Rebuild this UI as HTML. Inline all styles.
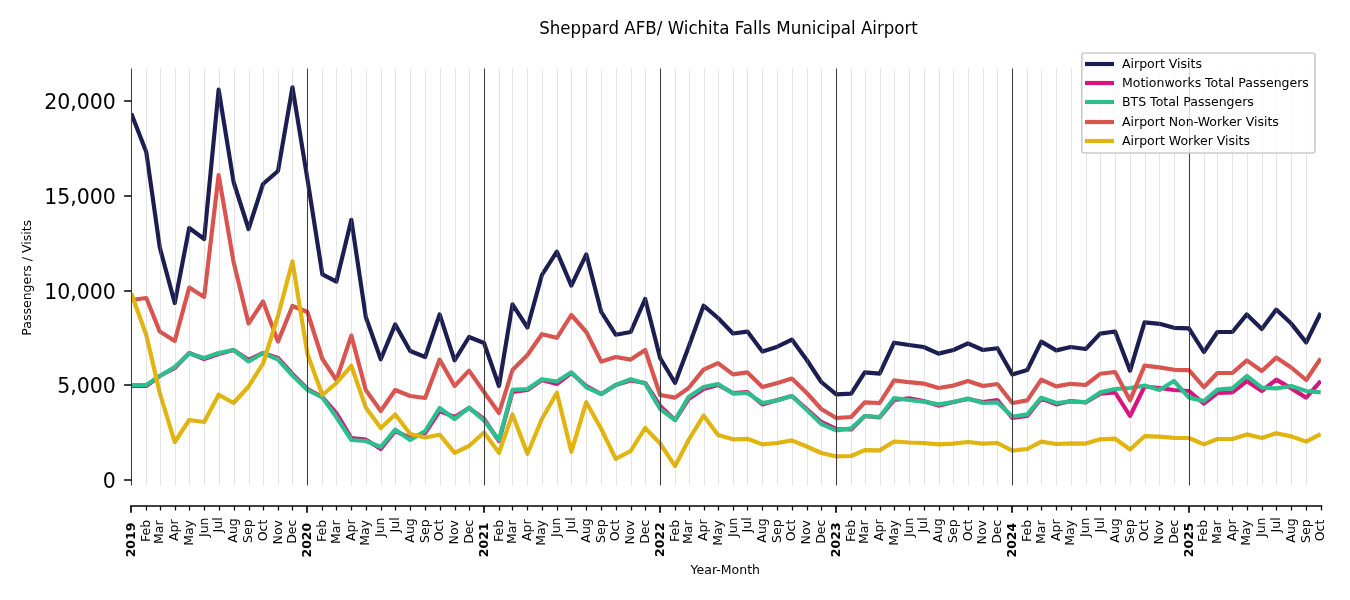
<!DOCTYPE html>
<html><head><meta charset="utf-8"><title>Sheppard AFB/ Wichita Falls Municipal Airport</title>
<style>html,body{margin:0;padding:0;background:#fff;}body{width:1350px;height:600px;overflow:hidden;}svg{display:block;will-change:transform;font-family:"DejaVu Sans","Liberation Sans",sans-serif;fill:#000;}svg text{fill:#000;}</style>
</head><body>
<svg width="1350" height="600" viewBox="0 0 1350 600">
<rect width="1350" height="600" fill="#fff"/>
<defs><clipPath id="ax"><rect x="131" y="68" width="1190" height="417"/></clipPath></defs>
<g clip-path="url(#ax)" fill="none" stroke-width="4.17" stroke-linejoin="round" stroke-linecap="butt">
<polyline points="131.31,113.5 146.27,152 159.78,247.5 174.73,303 189.21,228 204.17,239 218.64,89.6 233.6,182 248.56,229 263.03,184 277.99,171 292.46,87.4 307.42,179 322.38,274.4 336.37,281.6 351.33,219.8 365.8,317 380.76,359.3 395.23,324.4 410.19,351 425.15,357 439.62,314.4 454.58,360.3 469.05,337 484.01,343 498.97,386 512.48,304.4 527.44,327.5 541.91,275 556.87,251.6 571.34,285.6 586.3,254.4 601.26,312 615.73,334.7 630.69,332 645.16,299 660.12,358 675.08,383 688.59,347 703.54,305.6 718.02,318 732.98,333.5 747.45,331.6 762.41,351.5 777.37,346.7 791.84,339.6 806.8,360 821.27,382 836.23,394.4 851.19,393.6 864.7,372.4 879.65,373.6 894.13,342.7 909.09,345 923.56,347 938.52,353.6 953.47,350 967.95,343.3 982.91,350 997.38,348.2 1012.34,374.5 1027.3,370 1041.29,341.6 1056.25,350.4 1070.72,347 1085.68,349 1100.15,333.6 1115.11,331.5 1130.07,370.7 1144.54,322.4 1159.5,323.8 1173.97,327.8 1188.93,328.4 1203.89,352 1217.4,332 1232.35,332 1246.83,314.4 1261.79,329 1276.26,309.6 1291.22,323.6 1306.18,342.4 1320.65,313" stroke="#1c1e52"/>
<polyline points="131.31,386 146.27,386 159.78,376 174.73,368 189.21,353 204.17,359 218.64,354 233.6,350 248.56,360 263.03,353 277.99,358 292.46,374 307.42,389 322.38,397 336.37,413 351.33,438 365.8,439.5 380.76,449 395.23,431 410.19,438 425.15,433 439.62,411 454.58,417 469.05,408 484.01,419 498.97,441 512.48,392 527.44,390 541.91,380 556.87,384 571.34,373 586.3,386 601.26,394 615.73,385 630.69,380.5 645.16,383 660.12,406 675.08,420 688.59,399 703.54,389 718.02,385 732.98,393 747.45,392 762.41,404.5 777.37,400 791.84,396 806.8,409 821.27,422 836.23,429 851.19,429.5 864.7,416 879.65,417.5 894.13,400 909.09,398.4 923.56,401 938.52,405.6 953.47,402 967.95,399 982.91,402 997.38,400 1012.34,418 1027.3,416 1041.29,398.5 1056.25,404.4 1070.72,401 1085.68,402.5 1100.15,393.6 1115.11,392.5 1130.07,416 1144.54,386.5 1159.5,388 1173.97,390 1188.93,391 1203.89,403.6 1217.4,393 1232.35,392.4 1246.83,381 1261.79,391 1276.26,379.6 1291.22,388.4 1306.18,397.6 1320.65,381" stroke="#d6137e"/>
<polyline points="131.31,385 146.27,385 159.78,376 174.73,367 189.21,353.6 204.17,358 218.64,353 233.6,350 248.56,361.5 263.03,353 277.99,359.5 292.46,375.5 307.42,390 322.38,397.5 336.37,417 351.33,440 365.8,441 380.76,447 395.23,429.6 410.19,440 425.15,431 439.62,408 454.58,419 469.05,407.6 484.01,420.5 498.97,440 512.48,389.8 527.44,389 541.91,379.2 556.87,381.5 571.34,372.3 586.3,387.3 601.26,394.2 615.73,385 630.69,379.2 645.16,383.5 660.12,409 675.08,420 688.59,397 703.54,387 718.02,384 732.98,393.6 747.45,393 762.41,403 777.37,400.4 791.84,396 806.8,410 821.27,424 836.23,430.4 851.19,428.4 864.7,416 879.65,417 894.13,398 909.09,400 923.56,401.6 938.52,404.4 953.47,402 967.95,398.4 982.91,403 997.38,402.4 1012.34,416.6 1027.3,414.4 1041.29,397.6 1056.25,403 1070.72,401.7 1085.68,402.2 1100.15,392.4 1115.11,389 1130.07,388 1144.54,385.6 1159.5,390 1173.97,381 1188.93,397.6 1203.89,401 1217.4,389.6 1232.35,388.4 1246.83,376 1261.79,387.6 1276.26,388.4 1291.22,386 1306.18,391 1320.65,392.4" stroke="#2cbf8e"/>
<polyline points="131.31,300 146.27,298 159.78,331.6 174.73,341 189.21,287.6 204.17,297 218.64,175 233.6,262 248.56,323.5 263.03,301.5 277.99,341.6 292.46,306 307.42,312 322.38,359 336.37,380 351.33,335.6 365.8,390 380.76,411 395.23,390 410.19,396 425.15,398 439.62,359.6 454.58,386 469.05,370.6 484.01,392 498.97,413 512.48,370 527.44,355 541.91,334.2 556.87,337.8 571.34,315 586.3,332 601.26,361.6 615.73,357 630.69,359.6 645.16,350 660.12,395 675.08,397.6 688.59,388 703.54,369.6 718.02,363.2 732.98,374.4 747.45,372.4 762.41,387 777.37,383 791.84,378.6 806.8,393 821.27,409 836.23,418 851.19,417 864.7,402.4 879.65,403 894.13,380.4 909.09,382.2 923.56,383.6 938.52,388 953.47,385.6 967.95,381 982.91,386 997.38,384 1012.34,403 1027.3,400.4 1041.29,379.6 1056.25,386.4 1070.72,383.8 1085.68,385 1100.15,373.8 1115.11,372 1130.07,400.4 1144.54,365.6 1159.5,367.4 1173.97,369.8 1188.93,370.2 1203.89,387.2 1217.4,373 1232.35,373 1246.83,360.4 1261.79,371 1276.26,357.6 1291.22,367.5 1306.18,380 1320.65,358.5" stroke="#d9534f"/>
<polyline points="131.31,293.5 146.27,335 159.78,393 174.73,442 189.21,420 204.17,422 218.64,394.7 233.6,403 248.56,386.5 263.03,363.5 277.99,316 292.46,261.4 307.42,354 322.38,395 336.37,383 351.33,365.8 365.8,407.5 380.76,428 395.23,414.4 410.19,434 425.15,437.5 439.62,434.7 454.58,452.8 469.05,446 484.01,432.5 498.97,452.8 512.48,414.4 527.44,453.8 541.91,419 556.87,392.7 571.34,451.8 586.3,402.2 601.26,429 615.73,458.8 630.69,451 645.16,428 660.12,443.5 675.08,466.1 688.59,440 703.54,415.6 718.02,435 732.98,439.3 747.45,438.8 762.41,444.4 777.37,443 791.84,440.4 806.8,446.5 821.27,453 836.23,456.4 851.19,456 864.7,450.2 879.65,450.4 894.13,441.5 909.09,442.5 923.56,443 938.52,444.4 953.47,443.6 967.95,442 982.91,443.6 997.38,443 1012.34,450.6 1027.3,449 1041.29,441.6 1056.25,444 1070.72,443.3 1085.68,443.6 1100.15,439.3 1115.11,438.7 1130.07,449.5 1144.54,436.2 1159.5,436.7 1173.97,437.8 1188.93,438 1203.89,444.4 1217.4,439 1232.35,439 1246.83,434.4 1261.79,438 1276.26,433.2 1291.22,436.4 1306.18,441.6 1320.65,434" stroke="#e1b40e"/>
</g>
<path d="M146.5 68.5V485.5M160.5 68.5V485.5M175.5 68.5V485.5M189.5 68.5V485.5M204.5 68.5V485.5M219.5 68.5V485.5M234.5 68.5V485.5M249.5 68.5V485.5M263.5 68.5V485.5M278.5 68.5V485.5M292.5 68.5V485.5M322.5 68.5V485.5M336.5 68.5V485.5M351.5 68.5V485.5M366.5 68.5V485.5M381.5 68.5V485.5M395.5 68.5V485.5M410.5 68.5V485.5M425.5 68.5V485.5M440.5 68.5V485.5M455.5 68.5V485.5M469.5 68.5V485.5M499.5 68.5V485.5M512.5 68.5V485.5M527.5 68.5V485.5M542.5 68.5V485.5M557.5 68.5V485.5M571.5 68.5V485.5M586.5 68.5V485.5M601.5 68.5V485.5M616.5 68.5V485.5M631.5 68.5V485.5M645.5 68.5V485.5M675.5 68.5V485.5M689.5 68.5V485.5M704.5 68.5V485.5M718.5 68.5V485.5M733.5 68.5V485.5M747.5 68.5V485.5M762.5 68.5V485.5M777.5 68.5V485.5M792.5 68.5V485.5M807.5 68.5V485.5M821.5 68.5V485.5M851.5 68.5V485.5M865.5 68.5V485.5M880.5 68.5V485.5M894.5 68.5V485.5M909.5 68.5V485.5M924.5 68.5V485.5M939.5 68.5V485.5M953.5 68.5V485.5M968.5 68.5V485.5M983.5 68.5V485.5M997.5 68.5V485.5M1027.5 68.5V485.5M1041.5 68.5V485.5M1056.5 68.5V485.5M1071.5 68.5V485.5M1086.5 68.5V485.5M1100.5 68.5V485.5M1115.5 68.5V485.5M1130.5 68.5V485.5M1145.5 68.5V485.5M1159.5 68.5V485.5M1174.5 68.5V485.5M1204.5 68.5V485.5M1217.5 68.5V485.5M1232.5 68.5V485.5M1247.5 68.5V485.5M1262.5 68.5V485.5M1276.5 68.5V485.5M1291.5 68.5V485.5M1306.5 68.5V485.5" stroke="#9a9a9a" stroke-opacity="0.27" stroke-width="1" fill="none"/>
<path d="M131.5 68.5V485.5M307.5 68.5V485.5M484.5 68.5V485.5M660.5 68.5V485.5M836.5 68.5V485.5M1012.5 68.5V485.5M1189.5 68.5V485.5" stroke="#3c3c3c" stroke-width="1.05" fill="none"/>
<path d="M124.1 480H131.4M124.1 385H131.4M124.1 291H131.4M124.1 196H131.4M124.1 101H131.4" stroke="#000" stroke-width="1.67" fill="none"/>
<text x="115.9" y="488.5" text-anchor="end" font-size="20.83px" transform="translate(115.9 0) scale(0.985 1) translate(-115.9 0)">0</text>
<text x="115.9" y="393.5" text-anchor="end" font-size="20.83px" transform="translate(115.9 0) scale(0.985 1) translate(-115.9 0)">5,000</text>
<text x="115.9" y="299.5" text-anchor="end" font-size="20.83px" transform="translate(115.9 0) scale(0.985 1) translate(-115.9 0)">10,000</text>
<text x="115.9" y="204.5" text-anchor="end" font-size="20.83px" transform="translate(115.9 0) scale(0.985 1) translate(-115.9 0)">15,000</text>
<text x="115.9" y="109.5" text-anchor="end" font-size="20.83px" transform="translate(115.9 0) scale(0.985 1) translate(-115.9 0)">20,000</text>
<path d="M131 506.0H1321.5" stroke="#000" stroke-width="1.67" stroke-linecap="square" fill="none"/>
<path d="M131 506.0V512.8M307 506.0V512.8M484 506.0V512.8M660 506.0V512.8M836 506.0V512.8M1012 506.0V512.8M1189 506.0V512.8" stroke="#000" stroke-width="1.67" fill="none"/>
<path d="M146.5 506.0V510.5M160.5 506.0V510.5M175.5 506.0V510.5M189.5 506.0V510.5M204.5 506.0V510.5M219.5 506.0V510.5M234.5 506.0V510.5M249.5 506.0V510.5M263.5 506.0V510.5M278.5 506.0V510.5M292.5 506.0V510.5M322.5 506.0V510.5M336.5 506.0V510.5M351.5 506.0V510.5M366.5 506.0V510.5M381.5 506.0V510.5M395.5 506.0V510.5M410.5 506.0V510.5M425.5 506.0V510.5M440.5 506.0V510.5M455.5 506.0V510.5M469.5 506.0V510.5M499.5 506.0V510.5M512.5 506.0V510.5M527.5 506.0V510.5M542.5 506.0V510.5M557.5 506.0V510.5M571.5 506.0V510.5M586.5 506.0V510.5M601.5 506.0V510.5M616.5 506.0V510.5M631.5 506.0V510.5M645.5 506.0V510.5M675.5 506.0V510.5M689.5 506.0V510.5M704.5 506.0V510.5M718.5 506.0V510.5M733.5 506.0V510.5M747.5 506.0V510.5M762.5 506.0V510.5M777.5 506.0V510.5M792.5 506.0V510.5M807.5 506.0V510.5M821.5 506.0V510.5M851.5 506.0V510.5M865.5 506.0V510.5M880.5 506.0V510.5M894.5 506.0V510.5M909.5 506.0V510.5M924.5 506.0V510.5M939.5 506.0V510.5M953.5 506.0V510.5M968.5 506.0V510.5M983.5 506.0V510.5M997.5 506.0V510.5M1027.5 506.0V510.5M1041.5 506.0V510.5M1056.5 506.0V510.5M1071.5 506.0V510.5M1086.5 506.0V510.5M1100.5 506.0V510.5M1115.5 506.0V510.5M1130.5 506.0V510.5M1145.5 506.0V510.5M1159.5 506.0V510.5M1174.5 506.0V510.5M1204.5 506.0V510.5M1217.5 506.0V510.5M1232.5 506.0V510.5M1247.5 506.0V510.5M1262.5 506.0V510.5M1276.5 506.0V510.5M1291.5 506.0V510.5M1306.5 506.0V510.5M1321.5 506.0V510.5" stroke="#000" stroke-width="1.25" fill="none"/>
<text transform="translate(135.16,557.35) rotate(-90)" font-size="12.5px" font-weight="bold">2019</text>
<text transform="translate(149.82,541.95) rotate(-90)" font-size="12.5px">Feb</text>
<text transform="translate(163.33,543.95) rotate(-90)" font-size="12.5px">Mar</text>
<text transform="translate(178.28,540.95) rotate(-90)" font-size="12.5px">Apr</text>
<text transform="translate(192.76,545.85) rotate(-90)" font-size="12.5px">May</text>
<text transform="translate(207.72,537.05) rotate(-90)" font-size="12.5px">Jun</text>
<text transform="translate(222.19,532.45) rotate(-90)" font-size="12.5px">Jul</text>
<text transform="translate(237.15,542.65) rotate(-90)" font-size="12.5px">Aug</text>
<text transform="translate(252.11,542.95) rotate(-90)" font-size="12.5px">Sep</text>
<text transform="translate(266.58,541.25) rotate(-90)" font-size="12.5px">Oct</text>
<text transform="translate(281.54,544.45) rotate(-90)" font-size="12.5px">Nov</text>
<text transform="translate(296.01,543.85) rotate(-90)" font-size="12.5px">Dec</text>
<text transform="translate(311.27,557.55) rotate(-90)" font-size="12.5px" font-weight="bold">2020</text>
<text transform="translate(325.93,541.95) rotate(-90)" font-size="12.5px">Feb</text>
<text transform="translate(339.92,543.95) rotate(-90)" font-size="12.5px">Mar</text>
<text transform="translate(354.88,540.95) rotate(-90)" font-size="12.5px">Apr</text>
<text transform="translate(369.35,545.85) rotate(-90)" font-size="12.5px">May</text>
<text transform="translate(384.31,537.05) rotate(-90)" font-size="12.5px">Jun</text>
<text transform="translate(398.78,532.45) rotate(-90)" font-size="12.5px">Jul</text>
<text transform="translate(413.74,542.65) rotate(-90)" font-size="12.5px">Aug</text>
<text transform="translate(428.7,542.95) rotate(-90)" font-size="12.5px">Sep</text>
<text transform="translate(443.17,541.25) rotate(-90)" font-size="12.5px">Oct</text>
<text transform="translate(458.13,544.45) rotate(-90)" font-size="12.5px">Nov</text>
<text transform="translate(472.6,543.85) rotate(-90)" font-size="12.5px">Dec</text>
<text transform="translate(487.86,557.25) rotate(-90)" font-size="12.5px" font-weight="bold">2021</text>
<text transform="translate(502.52,541.95) rotate(-90)" font-size="12.5px">Feb</text>
<text transform="translate(516.03,543.95) rotate(-90)" font-size="12.5px">Mar</text>
<text transform="translate(530.99,540.95) rotate(-90)" font-size="12.5px">Apr</text>
<text transform="translate(545.46,545.85) rotate(-90)" font-size="12.5px">May</text>
<text transform="translate(560.42,537.05) rotate(-90)" font-size="12.5px">Jun</text>
<text transform="translate(574.89,532.45) rotate(-90)" font-size="12.5px">Jul</text>
<text transform="translate(589.85,542.65) rotate(-90)" font-size="12.5px">Aug</text>
<text transform="translate(604.81,542.95) rotate(-90)" font-size="12.5px">Sep</text>
<text transform="translate(619.28,541.25) rotate(-90)" font-size="12.5px">Oct</text>
<text transform="translate(634.24,544.45) rotate(-90)" font-size="12.5px">Nov</text>
<text transform="translate(648.71,543.85) rotate(-90)" font-size="12.5px">Dec</text>
<text transform="translate(663.97,557.05) rotate(-90)" font-size="12.5px" font-weight="bold">2022</text>
<text transform="translate(678.63,541.95) rotate(-90)" font-size="12.5px">Feb</text>
<text transform="translate(692.14,543.95) rotate(-90)" font-size="12.5px">Mar</text>
<text transform="translate(707.09,540.95) rotate(-90)" font-size="12.5px">Apr</text>
<text transform="translate(721.57,545.85) rotate(-90)" font-size="12.5px">May</text>
<text transform="translate(736.53,537.05) rotate(-90)" font-size="12.5px">Jun</text>
<text transform="translate(751,532.45) rotate(-90)" font-size="12.5px">Jul</text>
<text transform="translate(765.96,542.65) rotate(-90)" font-size="12.5px">Aug</text>
<text transform="translate(780.92,542.95) rotate(-90)" font-size="12.5px">Sep</text>
<text transform="translate(795.39,541.25) rotate(-90)" font-size="12.5px">Oct</text>
<text transform="translate(810.35,544.45) rotate(-90)" font-size="12.5px">Nov</text>
<text transform="translate(824.82,543.85) rotate(-90)" font-size="12.5px">Dec</text>
<text transform="translate(840.08,557.15) rotate(-90)" font-size="12.5px" font-weight="bold">2023</text>
<text transform="translate(854.74,541.95) rotate(-90)" font-size="12.5px">Feb</text>
<text transform="translate(868.25,543.95) rotate(-90)" font-size="12.5px">Mar</text>
<text transform="translate(883.2,540.95) rotate(-90)" font-size="12.5px">Apr</text>
<text transform="translate(897.68,545.85) rotate(-90)" font-size="12.5px">May</text>
<text transform="translate(912.64,537.05) rotate(-90)" font-size="12.5px">Jun</text>
<text transform="translate(927.11,532.45) rotate(-90)" font-size="12.5px">Jul</text>
<text transform="translate(942.07,542.65) rotate(-90)" font-size="12.5px">Aug</text>
<text transform="translate(957.02,542.95) rotate(-90)" font-size="12.5px">Sep</text>
<text transform="translate(971.5,541.25) rotate(-90)" font-size="12.5px">Oct</text>
<text transform="translate(986.46,544.45) rotate(-90)" font-size="12.5px">Nov</text>
<text transform="translate(1000.93,543.85) rotate(-90)" font-size="12.5px">Dec</text>
<text transform="translate(1016.19,557.55) rotate(-90)" font-size="12.5px" font-weight="bold">2024</text>
<text transform="translate(1030.85,541.95) rotate(-90)" font-size="12.5px">Feb</text>
<text transform="translate(1044.84,543.95) rotate(-90)" font-size="12.5px">Mar</text>
<text transform="translate(1059.8,540.95) rotate(-90)" font-size="12.5px">Apr</text>
<text transform="translate(1074.27,545.85) rotate(-90)" font-size="12.5px">May</text>
<text transform="translate(1089.23,537.05) rotate(-90)" font-size="12.5px">Jun</text>
<text transform="translate(1103.7,532.45) rotate(-90)" font-size="12.5px">Jul</text>
<text transform="translate(1118.66,542.65) rotate(-90)" font-size="12.5px">Aug</text>
<text transform="translate(1133.62,542.95) rotate(-90)" font-size="12.5px">Sep</text>
<text transform="translate(1148.09,541.25) rotate(-90)" font-size="12.5px">Oct</text>
<text transform="translate(1163.05,544.45) rotate(-90)" font-size="12.5px">Nov</text>
<text transform="translate(1177.52,543.85) rotate(-90)" font-size="12.5px">Dec</text>
<text transform="translate(1192.78,557.25) rotate(-90)" font-size="12.5px" font-weight="bold">2025</text>
<text transform="translate(1207.44,541.95) rotate(-90)" font-size="12.5px">Feb</text>
<text transform="translate(1220.95,543.95) rotate(-90)" font-size="12.5px">Mar</text>
<text transform="translate(1235.9,540.95) rotate(-90)" font-size="12.5px">Apr</text>
<text transform="translate(1250.38,545.85) rotate(-90)" font-size="12.5px">May</text>
<text transform="translate(1265.34,537.05) rotate(-90)" font-size="12.5px">Jun</text>
<text transform="translate(1279.81,532.45) rotate(-90)" font-size="12.5px">Jul</text>
<text transform="translate(1294.77,542.65) rotate(-90)" font-size="12.5px">Aug</text>
<text transform="translate(1309.73,542.95) rotate(-90)" font-size="12.5px">Sep</text>
<text transform="translate(1324.2,541.25) rotate(-90)" font-size="12.5px">Oct</text>
<text x="725.3" y="574" text-anchor="middle" font-size="12.5px">Year-Month</text>
<text transform="translate(30.9,277.8) rotate(-90)" text-anchor="middle" font-size="12.5px">Passengers / Visits</text>
<text transform="translate(728.55,33.7) scale(1,1.07)" text-anchor="middle" font-size="16.67px">Sheppard AFB/ Wichita Falls Municipal Airport</text>
<rect x="1081.8" y="53.0" width="233.2" height="100" rx="2.5" fill="#fff" fill-opacity="0.8" stroke="#cccccc" stroke-width="1.67"/>
<path d="M1085 64H1114" stroke="#1c1e52" stroke-width="4.17"/>
<text x="1122" y="68.4" font-size="12.5px">Airport Visits</text>
<path d="M1085 83H1114" stroke="#d6137e" stroke-width="4.17"/>
<text x="1122" y="87.4" font-size="12.5px">Motionworks Total Passengers</text>
<path d="M1085 102H1114" stroke="#2cbf8e" stroke-width="4.17"/>
<text x="1122" y="106.4" font-size="12.5px">BTS Total Passengers</text>
<path d="M1085 122H1114" stroke="#d9534f" stroke-width="4.17"/>
<text x="1122" y="126.4" font-size="12.5px">Airport Non-Worker Visits</text>
<path d="M1085 141H1114" stroke="#e1b40e" stroke-width="4.17"/>
<text x="1122" y="145.4" font-size="12.5px">Airport Worker Visits</text>
</svg>
</body></html>
